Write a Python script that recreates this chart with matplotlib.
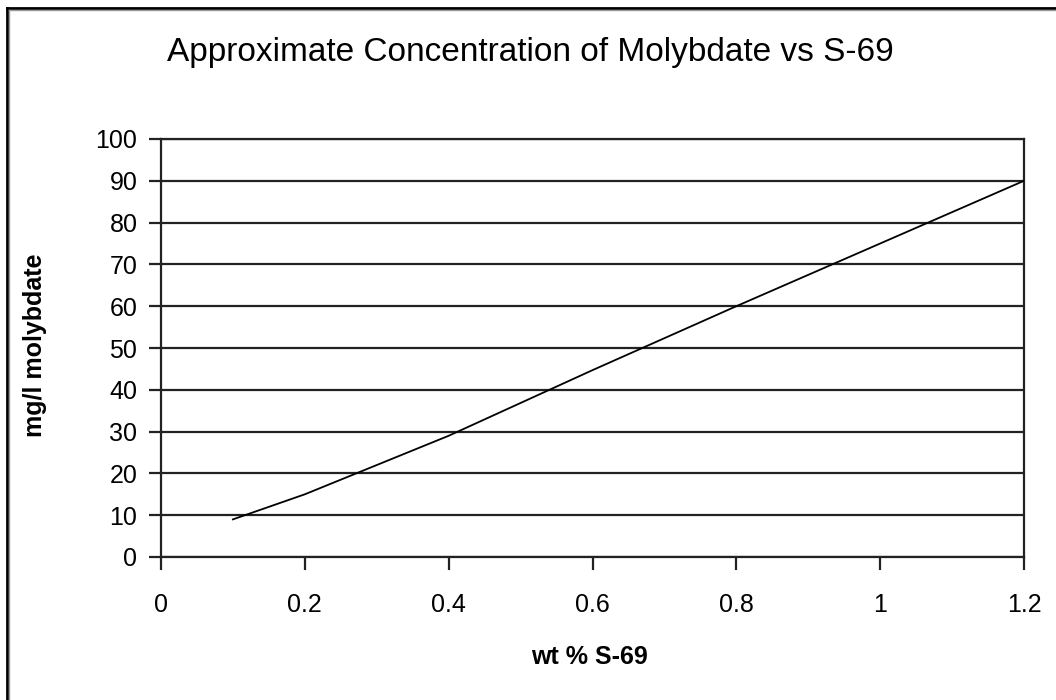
import matplotlib
matplotlib.use("Agg")
import matplotlib.pyplot as plt
from matplotlib.lines import Line2D

# data
wt_pct = [0.1, 0.2, 0.4, 0.6, 0.8, 1.0, 1.2]
molybdate = [9, 15, 29, 44.7, 60, 75, 90]
x_ticks = [0, 0.2, 0.4, 0.6, 0.8, 1, 1.2]
x_labels = ["0", "0.2", "0.4", "0.6", "0.8", "1", "1.2"]
y_ticks = list(range(0, 101, 10))

plt.rcParams['font.family'] = ['Liberation Sans', 'DejaVu Sans']

fig = plt.figure(figsize=(10.56, 7.0), dpi=100)
ax = fig.add_axes([161/1056, 1 - 557/700, (1024 - 161)/1056, (557 - 139)/700])

ax.plot(wt_pct, molybdate, color='black', lw=1.3, zorder=3)

ax.set_xlim(0, 1.2)
ax.set_ylim(0, 100)
ax.set_xticks(x_ticks)
ax.set_xticklabels(x_labels)
ax.set_yticks(y_ticks)
ax.yaxis.grid(True, color='#222222', lw=1.6)
ax.set_axisbelow(True)
for s in ax.spines.values():
    s.set_linewidth(1.6)
    s.set_color('#222222')
ax.tick_params(axis='both', direction='out', length=9, width=1.6,
               color='#222222', labelsize=18)
ax.tick_params(axis='x', pad=17)
ax.tick_params(axis='y', pad=8)

ax.set_xlabel("wt % S-69", fontsize=18, fontweight='bold', va='center')
ax.set_ylabel("mg/l molybdate", fontsize=18, fontweight='bold', va='center')
ax.xaxis.set_label_coords(0.497, -0.239)
ax.yaxis.set_label_coords(-0.146, 0.507)
fig.text(0.502, 1 - 52/700, "Approximate Concentration of Molybdate vs S-69",
         ha='center', va='center', fontsize=24)

# chart frame (left and top edges visible in the reference)
fig.add_artist(Line2D([7/1056, 7/1056], [0, 1 - 8/700], color='black', lw=2))
fig.add_artist(Line2D([7/1056, 1], [1 - 8/700, 1 - 8/700], color='black', lw=2))
fig.add_artist(Line2D([9/1056, 9/1056], [0, 1 - 10/700], color='#999999', lw=1))
fig.add_artist(Line2D([9/1056, 1], [1 - 10/700, 1 - 10/700], color='#999999', lw=1))

fig.savefig("out.png", dpi=100)
